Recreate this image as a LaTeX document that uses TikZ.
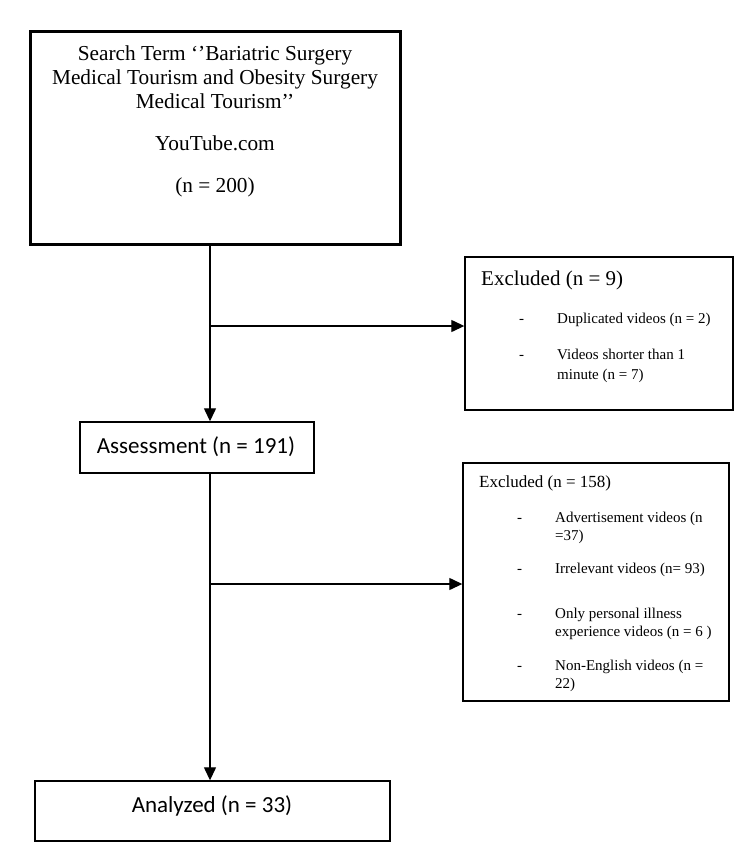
\documentclass[tikz,border=0pt]{standalone}
\usepackage{fontspec}
\setmainfont{Liberation Serif}
\newfontfamily\calib{Carlito}
\usetikzlibrary{arrows.meta}
\begin{document}
\begin{tikzpicture}[x=1pt,y=-1pt,
  box/.style={draw, line width=1.4pt, inner sep=0pt},
  conn/.style={line width=1.3pt, -{Triangle[length=13pt,width=12pt]}},
  big/.style={font=\fontsize{21.3}{25}\selectfont, anchor=base, inner sep=0pt},
  ttl/.style={font=\fontsize{17}{20}\selectfont, anchor=base west, inner sep=0pt},
  item/.style={font=\fontsize{15}{18}\selectfont, anchor=base west, inner sep=0pt},
  cal/.style={font=\calib\fontsize{23}{27}\selectfont, anchor=base, inner sep=0pt}]
\useasboundingbox (0,0) rectangle (750,865);
% boxes
\node[box, line width=3pt, minimum width=370pt, minimum height=213pt] (search) at (215,137.5) {};
\node[box, minimum width=268pt, minimum height=153pt] (exc1) at (599,333.5) {};
\node[box, minimum width=234pt, minimum height=51pt] (assess) at (197,447.5) {};
\node[box, minimum width=266pt, minimum height=238pt] (exc2) at (596,582) {};
\node[box, minimum width=355pt, minimum height=60pt] (anal) at (212.5,811) {};
% top text
\node[big] (s1) at (215,60) {Search Term ‘’Bariatric Surgery};
\node[big] (s2) at (215,84) {Medical Tourism and Obesity Surgery};
\node[big] (s3) at (215,108.5) {Medical Tourism’’};
\node[big] (s4) at (215,150) {YouTube.com};
\node[big] (s5) at (215,192) {(n = 200)};
% excluded 1
\node[big, font=\fontsize{21}{25}\selectfont, anchor=base west] (e1t) at (481,285.5) {Excluded (n = 9)};
\node[item] (e1d1) at (519,323) {-};
\node[item] (e1a) at (557,323) {Duplicated videos (n = 2)};
\node[item] (e1d2) at (519,359) {-};
\node[item] (e1b) at (557,359) {Videos shorter than 1};
\node[item] (e1c) at (557,379) {minute (n = 7)};
% excluded 2
\node[ttl] (e2t) at (479,487) {Excluded (n = 158)};
\node[item] (e2d1) at (517,522) {-};
\node[item] (e2a) at (555,522) {Advertisement videos (n};
\node[item] (e2a2) at (555,540) {=37)};
\node[item] (e2d2) at (517,573) {-};
\node[item] (e2b) at (555,573) {Irrelevant videos (n= 93)};
\node[item] (e2d3) at (517,618) {-};
\node[item] (e2c) at (555,618) {Only personal illness};
\node[item] (e2c2) at (555,636) {experience videos (n = 6 )};
\node[item] (e2d4) at (517,670) {-};
\node[item] (e2e) at (555,670) {Non-English videos (n =};
\node[item] (e2e2) at (555,688) {22)};
% calibri boxes text
\node[cal] (at) at (196,453.5) {Assessment (n = 191)};
\node[cal] (nt) at (212,812.5) {Analyzed (n = 33)};
% connectors
\coordinate (top1) at (210,244);
\coordinate (j1) at (210,326);
\coordinate (j2) at (210,584);
\draw[conn] (search.south -| top1) -- (assess.north -| top1);
\draw[conn] (assess.south -| top1) -- (anal.north -| top1);
\draw[conn] (j1) -- (exc1.west |- j1);
\draw[conn] (j2) -- (exc2.west |- j2);
\end{tikzpicture}
\end{document}
